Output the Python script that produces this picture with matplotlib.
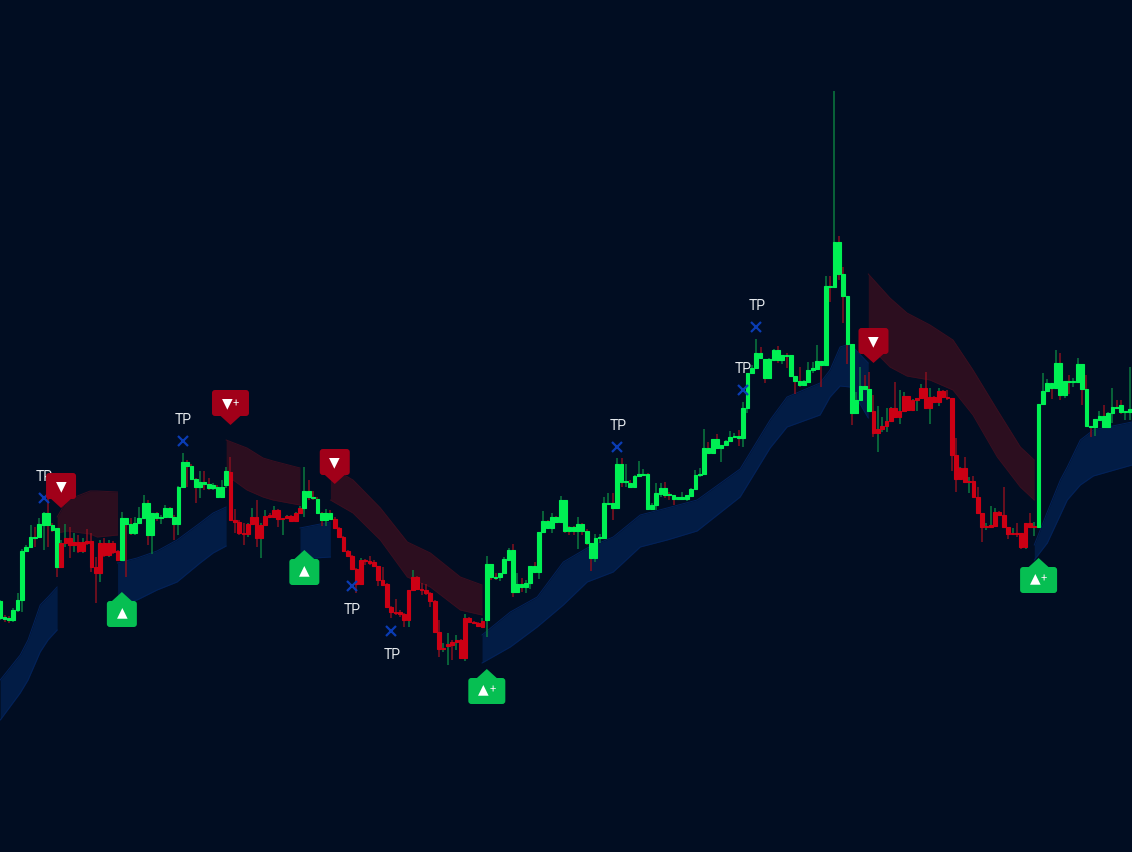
"""
Trend ribbon candlestick chart with buy/sell signals and take-profit marks.
"""
import matplotlib
matplotlib.use("Agg")
import matplotlib.pyplot as plt
from matplotlib.patches import FancyBboxPatch, Polygon
from matplotlib.transforms import IdentityTransform
import numpy as np

plt.rcParams["font.family"] = ["Roboto", "DejaVu Sans"]

# Price scale is arbitrary: the chart shows no axis
opens = [
    234, 235, 234, 232, 242, 252, 301, 305, 315, 315,
    327, 339, 327, 324, 285, 309, 314, 307, 310, 301,
    311, 311, 285, 279, 309, 297, 309, 301, 292, 334,
    328, 319, 329, 334, 349, 317, 339, 334, 335, 344,
    335, 328, 365, 390, 386, 373, 365, 370, 368, 364,
    365, 355, 367, 380, 332, 330, 319, 318, 328, 335,
    314, 327, 337, 335, 342, 333, 334, 336, 331, 339,
    344, 361, 355, 353, 339, 332, 339, 333, 324, 315,
    301, 296, 283, 268, 292, 291, 290, 286, 272, 268,
    245, 240, 240, 238, 232, 262, 275, 263, 262, 259,
    251, 220, 203, 206, 210, 210, 212, 194, 234, 230,
    229, 225, 232, 288, 275, 275, 279, 292, 302, 260,
    268, 265, 269, 286, 280, 320, 331, 324, 335, 330,
    352, 325, 325, 321, 328, 321, 309, 294, 314, 314,
    348, 349, 344, 388, 370, 369, 365, 376, 377, 378,
    343, 347, 358, 364, 358, 357, 353, 353, 353, 356,
    363, 377, 378, 404, 399, 413, 404, 407, 411, 415,
    416, 414, 444, 479, 484, 499, 493, 474, 492, 502,
    492, 497, 497, 476, 471, 467, 470, 482, 483, 491,
    487, 566, 565, 610, 578, 556, 508, 439, 452, 466,
    463, 441, 419, 423, 426, 431, 444, 435, 441, 456,
    442, 452, 454, 464, 444, 455, 450, 461, 455, 454,
    397, 373, 384, 370, 371, 355, 339, 325, 325, 326,
    340, 337, 325, 318, 319, 319, 305, 329, 325, 325,
    448, 461, 469, 464, 489, 457, 471, 470, 470, 488,
    463, 426, 425, 432, 436, 425, 439, 445, 447, 440, 440,
]
closes = [
    251, 233, 232, 242, 252, 301, 305, 315, 314, 328,
    339, 327, 322, 285, 309, 314, 307, 310, 301, 310,
    309, 285, 279, 309, 297, 309, 300, 292, 334, 328,
    319, 329, 334, 349, 317, 339, 334, 335, 344, 335,
    328, 365, 390, 386, 373, 365, 370, 368, 364, 367,
    355, 365, 381, 332, 330, 319, 318, 328, 335, 314,
    327, 336, 335, 342, 333, 334, 336, 331, 339, 344,
    361, 355, 354, 339, 332, 339, 333, 324, 315, 301,
    296, 283, 268, 292, 291, 289, 286, 272, 267, 245,
    240, 239, 238, 232, 262, 275, 263, 262, 259, 251,
    220, 203, 204, 208, 207, 212, 194, 234, 230, 229,
    226, 231, 288, 275, 274, 279, 293, 302, 260, 268,
    265, 269, 286, 280, 320, 331, 324, 335, 330, 352,
    321, 321, 321, 328, 321, 309, 294, 314, 315, 349,
    349, 344, 388, 370, 371, 365, 376, 378, 378, 343,
    347, 359, 364, 357, 357, 353, 355, 355, 357, 363,
    377, 378, 404, 399, 413, 404, 407, 411, 415, 416,
    414, 444, 479, 484, 499, 494, 474, 493, 502, 492,
    497, 496, 476, 471, 467, 471, 482, 484, 491, 487,
    566, 565, 610, 578, 556, 508, 439, 452, 466, 463,
    441, 419, 423, 426, 431, 444, 435, 441, 456, 442,
    452, 454, 464, 444, 455, 450, 461, 455, 454, 397,
    373, 384, 370, 371, 355, 339, 325, 326, 327, 340,
    337, 325, 318, 319, 318, 305, 329, 325, 326, 448,
    461, 469, 464, 489, 457, 471, 470, 471, 488, 463,
    426, 425, 433, 436, 425, 439, 445, 444, 440, 441, 443,
]
highs = [
    252, 237, 236, 244, 259, 303, 307, 327, 325, 334,
    340, 355, 329, 324, 312, 328, 325, 319, 317, 314,
    323, 319, 295, 312, 314, 312, 311, 302, 340, 334,
    334, 335, 345, 357, 352, 339, 340, 337, 347, 345,
    337, 366, 399, 392, 388, 374, 381, 381, 374, 369,
    367, 372, 385, 395, 343, 332, 329, 329, 344, 352,
    329, 342, 339, 346, 343, 334, 337, 337, 340, 346,
    385, 372, 361, 355, 340, 343, 342, 335, 325, 316,
    302, 297, 284, 294, 293, 296, 292, 286, 285, 269,
    246, 253, 242, 239, 262, 282, 276, 269, 268, 260,
    252, 232, 209, 219, 212, 217, 213, 238, 235, 231,
    230, 234, 296, 288, 279, 279, 295, 304, 308, 279,
    274, 272, 286, 290, 320, 341, 332, 339, 336, 356,
    352, 326, 326, 335, 329, 323, 309, 318, 318, 355,
    359, 359, 394, 394, 388, 372, 377, 391, 383, 379,
    349, 369, 369, 370, 360, 357, 355, 360, 357, 364,
    382, 384, 423, 410, 413, 418, 407, 412, 421, 419,
    422, 450, 479, 487, 513, 505, 493, 494, 503, 506,
    497, 499, 497, 476, 485, 472, 490, 490, 507, 491,
    576, 576, 761, 616, 585, 556, 508, 460, 485, 477,
    480, 457, 446, 435, 444, 445, 470, 462, 460, 456,
    453, 454, 468, 480, 464, 456, 464, 462, 462, 454,
    414, 385, 395, 375, 376, 365, 339, 329, 346, 344,
    341, 365, 325, 324, 329, 319, 329, 339, 330, 448,
    479, 473, 469, 502, 499, 471, 477, 474, 494, 488,
    477, 426, 433, 441, 447, 440, 464, 452, 452, 441, 485,
]
lows = [
    232, 230, 229, 230, 240, 240, 300, 304, 305, 314,
    302, 305, 320, 275, 284, 305, 294, 300, 299, 299,
    307, 280, 249, 270, 295, 295, 298, 291, 292, 275,
    317, 317, 328, 333, 307, 298, 331, 328, 334, 334,
    312, 317, 364, 365, 372, 349, 354, 362, 362, 362,
    354, 354, 364, 332, 319, 317, 307, 315, 327, 305,
    294, 326, 334, 334, 325, 317, 333, 330, 330, 338,
    335, 352, 352, 338, 326, 326, 332, 323, 314, 300,
    295, 282, 259, 267, 287, 287, 285, 266, 266, 244,
    234, 237, 235, 225, 225, 261, 262, 257, 257, 245,
    219, 195, 200, 187, 192, 202, 193, 191, 229, 228,
    225, 225, 215, 272, 272, 271, 278, 291, 255, 259,
    260, 259, 263, 279, 273, 319, 323, 319, 329, 329,
    319, 317, 317, 303, 317, 307, 281, 290, 309, 314,
    348, 332, 343, 365, 365, 365, 365, 375, 376, 343,
    342, 342, 355, 354, 352, 347, 352, 352, 351, 355,
    362, 375, 377, 399, 398, 404, 390, 406, 410, 414,
    406, 405, 439, 478, 483, 493, 469, 473, 491, 489,
    488, 484, 475, 458, 465, 466, 469, 479, 482, 465,
    486, 550, 564, 572, 529, 488, 427, 438, 451, 462,
    441, 415, 400, 420, 420, 430, 434, 428, 440, 441,
    441, 441, 453, 443, 428, 449, 446, 454, 452, 381,
    360, 372, 370, 359, 355, 338, 310, 322, 325, 325,
    336, 325, 313, 317, 315, 303, 303, 324, 316, 324,
    447, 460, 453, 463, 452, 454, 458, 465, 469, 447,
    425, 415, 416, 431, 424, 424, 429, 443, 438, 432, 432,
]

# Bars where the trend flips; the series starts bullish
flip_bars = [14, 28, 53, 70, 77, 112, 201, 239]

# Ribbons: bars, upper edge, lower edge
bull_bars_a = [0, 4.6, 6.4, 9.2, 11, 13.1]
bull_upper_a = [172, 197, 212, 247, 255, 265]
bull_lower_a = [132, 159, 172, 200, 212, 222]
bull_bars_b = [27, 31.5, 36.1, 40.7, 46, 49, 52]
bull_upper_b = [289, 294, 301, 312, 329, 339, 345]
bull_lower_b = [247, 252, 262, 270, 289, 299, 306]
bull_bars_c = [69, 72.5, 76]
bull_upper_c = [324, 327, 330]
bull_lower_c = [294, 294, 295]
bull_bars_d = [110.9, 117.4, 123.6, 129.6, 135.1, 141.1, 147.3, 153.5, 160.4,
               170.3, 177.2, 181.1, 188.7, 191, 193.3, 195.6, 199.8]
bull_upper_d = [217, 240, 255, 290, 304, 315, 337, 344, 352,
                383, 432, 455, 469, 482, 505, 508, 489]
bull_lower_d = [189, 205, 225, 247, 270, 280, 305, 312, 321,
                355, 404, 425, 437, 455, 466, 465, 434]
bull_bars_e = [238, 241, 244, 245.6, 248.6, 251.6, 260.5]
bull_upper_e = [307, 340, 372, 385, 412, 422, 430]
bull_lower_e = [292, 309, 337, 352, 367, 376, 387]

bear_bars_a = [13.1, 15.4, 20.7, 22.3, 27]
bear_upper_a = [335, 352, 361, 361, 360]
bear_lower_a = [319, 321, 318, 315, 317]
bear_bars_b = [52, 56.8, 60.5, 62.8, 69]
bear_upper_b = [412, 404, 394, 391, 384]
bear_lower_b = [377, 362, 355, 352, 347]
bear_bars_c = [76, 81.2, 87.5, 93.7, 99, 105.9, 110.9]
bear_upper_c = [385, 372, 344, 310, 299, 275, 267]
bear_lower_c = [352, 339, 312, 275, 265, 242, 237]
bear_bars_d = [199.8, 204.8, 208.7, 214, 219.3, 223.9, 229.5, 234.8, 238]
bear_upper_d = [578, 554, 539, 527, 512, 482, 442, 405, 392]
bear_lower_d = [507, 485, 476, 472, 462, 437, 395, 365, 352]

# Signals: bar, price at the pointer tip, whether it is an add-on signal
sell_bars = [14, 53, 77, 201]
sell_prices = [344, 427, 368, 489]
sell_plus = [False, True, False, False]
buy_bars = [28, 70, 112, 239]
buy_prices = [260, 302, 183, 294]
buy_plus = [False, False, True, True]

# Take profit crosses, label above or below the cross
tp_bars = [10, 42, 81, 90, 142, 171, 174]
tp_prices = [354, 411, 266, 221, 405, 462, 525]
tp_above = [True, True, False, False, True, True, True]

BG = "#010d22"
BODY_UP = "#00f053"
BODY_DOWN = "#cc0014"
WICK_UP = "#0b7a40"
WICK_DOWN = "#86101f"
RIBBON_BULL = "#021c45"
RIBBON_BEAR = "#2c0e1f"
EDGE_BULL = "#03225a"
EDGE_BEAR = "#3a0f20"
SIGNAL_SELL = "#a10019"
SIGNAL_BUY = "#06bf52"
TP_CROSS = "#0a3cb4"
TP_TEXT = "#e4e8ec"


def draw_ribbon(ax, bars, upper, lower, fill, edge):
    ax.fill_between(bars, lower, upper, color=fill, linewidth=0, zorder=1)
    ax.plot(bars, upper, color=edge, linewidth=0.7, zorder=1)
    ax.plot(bars, lower, color=edge, linewidth=0.7, zorder=1)


def draw_signal(ax, bar, price, colour, direction, plus):
    # direction is +1 for a sell flag (box above tip), -1 for a buy flag
    tip_x, tip_y = ax.transData.transform((bar, price))
    half = 18.5 if plus else 15
    near = tip_y + direction * 9
    far = tip_y + direction * 35
    identity = IdentityTransform()
    box = FancyBboxPatch(
        (tip_x - half + 3, min(near, far) + 3), 2 * half - 6, 20,
        boxstyle="round,pad=3,rounding_size=3",
        facecolor=colour, edgecolor="none", transform=identity, zorder=6,
    )
    ax.add_patch(box)
    ax.add_patch(Polygon(
        [(tip_x - 11, near + direction), (tip_x + 11, near + direction), (tip_x, tip_y)],
        facecolor=colour, edgecolor="none", transform=identity, zorder=6,
    ))
    glyph = "▼" if direction > 0 else "▲"
    glyph_x = -3.5 if plus else 0
    glyph_y = 22 if direction > 0 else -20
    ax.annotate(
        glyph, xy=(bar, price), xytext=(glyph_x, glyph_y), textcoords="offset pixels",
        ha="center", va="center", color="white", fontsize=10,
        family="DejaVu Sans", zorder=7,
    )
    if plus:
        ax.annotate(
            "+", xy=(bar, price), xytext=(5.5, glyph_y - 1), textcoords="offset pixels",
            ha="center", va="center", color="#f0f0f0", fontsize=8, zorder=7,
        )


fig = plt.figure(figsize=(11.32, 8.52), dpi=100)
fig.patch.set_facecolor(BG)
ax = fig.add_axes([0, 0, 1, 1])
ax.set_facecolor(BG)
ax.set_xlim(-0.05, 260.5)
ax.set_ylim(0, 852)
ax.axis("off")

for bars, upper, lower in [
    (bull_bars_a, bull_upper_a, bull_lower_a),
    (bull_bars_b, bull_upper_b, bull_lower_b),
    (bull_bars_c, bull_upper_c, bull_lower_c),
    (bull_bars_d, bull_upper_d, bull_lower_d),
    (bull_bars_e, bull_upper_e, bull_lower_e),
]:
    draw_ribbon(ax, bars, upper, lower, RIBBON_BULL, EDGE_BULL)
for bars, upper, lower in [
    (bear_bars_a, bear_upper_a, bear_lower_a),
    (bear_bars_b, bear_upper_b, bear_lower_b),
    (bear_bars_c, bear_upper_c, bear_lower_c),
    (bear_bars_d, bear_upper_d, bear_lower_d),
]:
    draw_ribbon(ax, bars, upper, lower, RIBBON_BEAR, EDGE_BEAR)

x = np.arange(len(closes))
o = np.array(opens)
c = np.array(closes)

# Wicks follow the bar's own direction, bodies follow the trend
wick_colours = [WICK_UP if cl >= op else WICK_DOWN for op, cl in zip(opens, closes)]
ax.vlines(x, lows, highs, colors=wick_colours, linewidth=1.1, zorder=2)

bullish = np.searchsorted(flip_bars, x, side="right") % 2 == 0
body_colours = [BODY_UP if b else BODY_DOWN for b in bullish]
ax.bar(
    x, np.abs(c - o), bottom=np.minimum(o, c), width=0.85,
    color=body_colours, edgecolor=body_colours, linewidth=0.8, zorder=3,
)

ax.plot(tp_bars, tp_prices, linestyle="none", marker="x", color=TP_CROSS,
        markersize=6.5, markeredgewidth=1.6, zorder=4)
for bar, price, above in zip(tp_bars, tp_prices, tp_above):
    ax.annotate(
        "TP", xy=(bar, price), xytext=(0.5, 21 if above else -24),
        textcoords="offset pixels", ha="center", va="center",
        color=TP_TEXT, fontsize=10, zorder=4,
    )

for bar, price, plus in zip(sell_bars, sell_prices, sell_plus):
    draw_signal(ax, bar, price, SIGNAL_SELL, 1, plus)
for bar, price, plus in zip(buy_bars, buy_prices, buy_plus):
    draw_signal(ax, bar, price, SIGNAL_BUY, -1, plus)

fig.savefig("out.png", dpi=100, facecolor=fig.get_facecolor())
